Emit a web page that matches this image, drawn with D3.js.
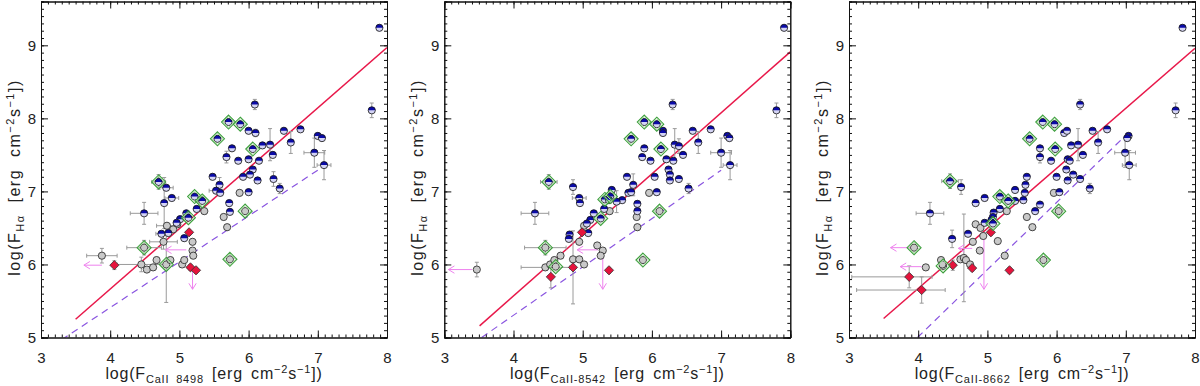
<!DOCTYPE html>
<html>
<head>
<meta charset="utf-8">
<script src="https://cdn.jsdelivr.net/npm/d3@7"></script>
<style>
body { margin: 0; background: #fff; }
svg { display: block; }
text { font-family: "Liberation Sans", Arial, sans-serif; fill: #222; }
</style>
</head>
<body>
<script>
// axis ranges and tick labels
var xDomain = [3, 8];
var yDomain = [5, 9.6];
var xTicks = [3, 4, 5, 6, 7, 8];
var yTicks = [5, 6, 7, 8, 9];
var lineNames = ['CaII 8498', 'CaII-8542', 'CaII-8662'];

// points: [x, y, xerr, yerr, xerrHigh]
var blue8498 = [[7.89,9.24,0,0.04],[7.78,8.11,0,0.1],[6.09,8.19,0,0.07],[5.71,7.95],[5.88,7.92],[6.00,7.83],[6.10,7.80,0,0.05],[6.51,7.83],[6.75,7.85],[5.55,7.72],[5.76,7.59],[6.06,7.58],[6.20,7.63],[6.31,7.64,0,0.22],[6.61,7.67,0,0.15],[7.00,7.76],[7.06,7.73],[5.68,7.47,0,0.08],[5.85,7.42],[6.00,7.44],[6.15,7.42],[6.35,7.50],[6.95,7.53,0.15,0.2],[7.09,7.36,0.1,0.2],[6.06,7.30],[6.02,7.23],[5.92,7.20],[5.48,7.20],[6.13,7.15],[6.36,7.17,0,0.1],[5.58,7.09,0,0.1],[6.45,7.04,0,0.07],[6.00,6.99],[5.53,7.01,0.1,0],[5.59,6.98],[5.72,6.84],[5.73,6.72],[4.70,7.13,0.1,0.1],[4.81,7.05,0.1,0],[4.89,6.91,0.1,0],[4.78,6.84,0,0.35],[4.49,6.70,0.2,0.15],[5.22,6.93],[5.31,6.88],[5.33,6.87],[5.25,6.76],[5.10,6.70],[5.13,6.64],[5.01,6.62],[4.96,6.57],[4.84,6.43],[4.74,6.42,0.08,0],[5.07,6.36]];
var grey8498 = [[5.87,6.98],[5.36,6.73],[5.95,6.73],[5.64,6.65],[5.69,6.51],[5.73,6.07],[4.97,6.55],[4.82,6.53,0.15,0],[4.91,6.48],[4.77,6.31,0.2,0.1],[5.19,6.31],[5.19,6.19],[5.20,6.12],[4.49,6.23,0.25,0.1],[3.88,6.12,0.22,0.1],[4.45,6.00,0.35,0.1],[4.53,5.93],[4.62,5.96],[4.67,6.06],[4.81,6.00,0,0.52],[4.87,6.06],[5.04,6.00],[5.07,6.06]];
var red8498 = [[4.06,5.99,0,0.06],[5.14,6.44],[5.16,5.96],[5.24,5.92]];
var green8498 = [[5.71,7.95],[5.88,7.92],[5.55,7.72],[6.06,7.58],[4.70,7.13],[5.22,6.93],[5.33,6.87],[5.13,6.64],[5.95,6.73],[5.73,6.07],[4.49,6.23],[4.81,6.00]];
var arrows8498 = [[3.88,5.99,3.62,5.99],[5.10,6.20,4.80,6.20],[5.19,5.98,5.19,5.66]];
var fit8498 = [[3.5,5.25],[8,8.97]];
var dash8498 = [[3.3,4.97],[7.03,7.31]];

var blue8542 = [[7.91,9.24],[7.80,8.11,0,0.1],[6.30,8.19,0,0.07],[5.89,7.95],[6.07,7.92],[6.16,7.83],[6.16,7.80],[6.59,7.83],[6.85,7.85],[5.70,7.72],[5.89,7.59],[6.13,7.58],[6.33,7.64,0,0.22],[6.39,7.62,0,0.1],[6.67,7.67,0,0.15],[7.09,7.76],[7.12,7.73],[5.86,7.47],[5.98,7.42],[6.21,7.44],[6.31,7.42],[6.45,7.50],[7.00,7.53,0.15,0.2],[7.13,7.36,0.1,0.2],[6.24,7.30],[6.26,7.23],[6.26,7.15],[6.04,7.20],[5.64,7.20],[6.39,7.17],[5.73,7.09,0,0.15],[5.42,7.02],[6.53,7.04,0,0.07],[6.07,6.99],[5.66,6.98],[5.70,6.99],[5.57,6.88],[5.49,6.86,0,0.15],[5.79,6.83],[5.79,6.73],[4.51,7.13,0.12,0.1],[4.86,7.06,0,0.1],[4.95,6.91,0.1,0],[4.96,6.84],[4.31,6.70,0.2,0.15],[5.32,6.89],[5.40,6.93],[5.38,6.88],[5.31,6.76],[5.26,6.63],[5.16,6.70],[5.11,6.61],[5.06,6.56],[5.08,6.43],[4.81,6.41],[4.80,6.35]];
var grey8542 = [[5.96,6.98],[5.39,6.73],[6.11,6.73],[5.78,6.65],[5.79,6.51],[5.87,6.06],[5.02,6.53],[4.95,6.31],[5.21,6.26],[4.46,6.23,0.3,0.1],[5.29,6.19],[5.26,6.12],[3.47,5.93,0,0.1],[4.46,5.96,0.35,0],[4.53,6.00],[4.59,6.06],[4.68,6.12],[4.61,5.97],[4.86,6.07],[4.95,6.07],[5.02,6.00]];
var red8542 = [[4.54,5.83,0,0.15],[4.86,5.96,0,0.5],[4.99,6.44],[5.38,5.92]];
var green8542 = [[5.89,7.95],[6.07,7.92],[5.70,7.72],[6.13,7.58],[4.51,7.13],[5.32,6.89],[5.40,6.93],[5.26,6.63],[6.11,6.73],[5.87,6.06],[4.46,6.23],[4.61,5.97]];
var arrows8542 = [[3.40,5.93,3.06,5.93],[5.22,6.20,4.92,6.20],[5.29,6.12,5.29,5.66]];
var fit8542 = [[3.51,5.16],[8,8.91]];
var dash8542 = [[3.54,5.0],[7.0,7.29]];

var blue8662 = [[7.82,9.24],[7.72,8.11,0,0.1],[6.34,8.19,0,0.07],[5.80,7.95],[5.97,7.92],[6.11,7.80],[6.15,7.83],[6.52,7.83],[6.73,7.85],[5.61,7.72],[5.76,7.59],[5.98,7.58],[6.21,7.63],[6.31,7.64,0,0.22],[6.60,7.67,0,0.15],[7.04,7.76],[7.02,7.73],[5.76,7.47,0,0.08],[5.92,7.42],[6.16,7.44],[6.19,7.42],[6.38,7.50],[6.99,7.53,0.15,0.2],[7.05,7.36,0.1,0.2],[6.14,7.30],[6.24,7.23],[6.00,7.20],[5.57,7.20],[6.16,7.15],[6.34,7.17],[5.55,7.09],[5.40,7.02],[6.48,7.04,0,0.07],[6.04,6.99],[5.54,6.98],[5.52,6.88],[5.40,6.87],[5.69,6.73],[5.76,6.82],[4.46,7.14,0.12,0.1],[4.62,7.06,0,0.1],[4.17,6.70,0.2,0.15],[4.83,6.84],[4.96,6.91],[5.18,6.93],[5.30,6.87],[5.18,6.76],[5.09,6.71],[5.08,6.65],[5.06,6.61],[4.96,6.57],[5.08,6.56],[4.72,6.42],[4.49,6.35,0,0.12]];
var grey8662 = [[5.96,6.98],[5.28,6.73],[6.03,6.73],[5.57,6.65],[5.65,6.51],[5.81,6.06],[4.83,6.55],[4.90,6.50],[4.94,6.39],[4.79,6.31],[5.15,6.32],[4.89,6.19],[5.25,6.12],[3.94,6.23],[4.11,5.96],[4.33,6.06],[4.36,5.98],[4.35,6.00],[4.61,6.07],[4.66,6.09,0,0.6],[4.69,6.06],[4.75,6.00]];
var red8662 = [[3.87,5.83,0.83,0.15,0.33],[4.05,5.65,0.94,0.18,0.34],[4.50,5.99,0,0.07],[4.78,5.95],[5.05,6.44],[5.32,5.92]];
var green8662 = [[5.80,7.95],[5.97,7.92],[5.61,7.72],[5.98,7.58],[4.46,7.14],[5.18,6.93],[5.30,6.87],[5.08,6.56],[6.03,6.73],[5.81,6.06],[3.94,6.23],[4.36,5.98]];
var arrows8662 = [[3.92,6.23,3.60,6.23],[4.05,5.97,3.74,5.97],[4.95,6.40,4.95,5.66],[4.78,6.22,4.58,6.22]];
var fit8662 = [[3.5,5.26],[8,8.96]];
var dash8662 = [[3.99,5.0],[6.98,7.75]];

var width = 1200, height = 386;
var plotW = 346, plotTop = 1.5, plotBottom = 337.5;

var svg = d3.select('body').append('svg')
  .attr('width', width)
  .attr('height', height);

var panels = [
  {left: 41, name: lineNames[0], blue: blue8498, grey: grey8498, red: red8498, green: green8498, arrows: arrows8498, fit: fit8498, dash: dash8498},
  {left: 444.3, name: lineNames[1], blue: blue8542, grey: grey8542, red: red8542, green: green8542, arrows: arrows8542, fit: fit8542, dash: dash8542},
  {left: 849, name: lineNames[2], blue: blue8662, grey: grey8662, red: red8662, green: green8662, arrows: arrows8662, fit: fit8662, dash: dash8662}
];

// minor ticks every 0.1
var xMinor = d3.range(30, 81).map(function(d) { return d / 10; });
var yMinor = d3.range(50, 97).map(function(d) { return d / 10; });

panels.forEach(function(p, i) {
  var x = d3.scaleLinear().domain(xDomain).range([p.left, p.left + plotW]);
  var y = d3.scaleLinear().domain(yDomain).range([plotBottom, plotTop]);
  var g = svg.append('g');

  g.append('clipPath').attr('id', 'clip' + i)
    .append('rect')
    .attr('x', p.left).attr('y', plotTop)
    .attr('width', plotW).attr('height', plotBottom - plotTop);
  var plot = g.append('g').attr('clip-path', 'url(#clip' + i + ')');

  // fit lines
  var line = d3.line().x(function(d) { return x(d[0]); }).y(function(d) { return y(d[1]); });
  plot.append('path').datum(p.dash).attr('d', line)
    .attr('stroke', '#8a55e0').attr('stroke-width', 1.2)
    .attr('stroke-dasharray', '7,5').attr('fill', 'none');
  plot.append('path').datum(p.fit).attr('d', line)
    .attr('stroke', '#e8184a').attr('stroke-width', 1.5).attr('fill', 'none');

  // error bars
  var all = p.blue.concat(p.grey, p.red);
  var eb = plot.append('g').attr('stroke', '#9a9a9a').attr('stroke-width', 1).attr('fill', 'none');
  all.forEach(function(d) {
    var xe = d[2] || 0, ye = d[3] || 0.04, xeh = d[4] != null ? d[4] : xe;
    var cx = x(d[0]), cy = y(d[1]);
    eb.append('line').attr('x1', cx).attr('x2', cx).attr('y1', y(d[1] - ye)).attr('y2', y(d[1] + ye));
    eb.append('line').attr('x1', cx - 2).attr('x2', cx + 2).attr('y1', y(d[1] - ye)).attr('y2', y(d[1] - ye));
    eb.append('line').attr('x1', cx - 2).attr('x2', cx + 2).attr('y1', y(d[1] + ye)).attr('y2', y(d[1] + ye));
    if (xe > 0) {
      eb.append('line').attr('x1', x(d[0] - xe)).attr('x2', x(d[0] + xeh)).attr('y1', cy).attr('y2', cy);
      eb.append('line').attr('x1', x(d[0] - xe)).attr('x2', x(d[0] - xe)).attr('y1', cy - 2).attr('y2', cy + 2);
      eb.append('line').attr('x1', x(d[0] + xeh)).attr('x2', x(d[0] + xeh)).attr('y1', cy - 2).attr('y2', cy + 2);
    }
  });

  // upper limit arrows
  var ar = plot.append('g').attr('stroke', '#ee82ee').attr('stroke-width', 1).attr('fill', 'none');
  p.arrows.forEach(function(a) {
    var x1 = x(a[0]), y1 = y(a[1]), x2 = x(a[2]), y2 = y(a[3]);
    ar.append('line').attr('x1', x1).attr('y1', y1).attr('x2', x2).attr('y2', y2);
    var ang = Math.atan2(y2 - y1, x2 - x1), L = 7, w = 0.55;
    ar.append('path').attr('d', 'M' + (x2 - L * Math.cos(ang - w)) + ',' + (y2 - L * Math.sin(ang - w)) +
      'L' + x2 + ',' + y2 + 'L' + (x2 - L * Math.cos(ang + w)) + ',' + (y2 - L * Math.sin(ang + w)));
  });

  // grey circles
  plot.append('g').selectAll('circle').data(p.grey).enter().append('circle')
    .attr('cx', function(d) { return x(d[0]); })
    .attr('cy', function(d) { return y(d[1]); })
    .attr('r', 3.6).attr('fill', '#c9c9c9').attr('stroke', '#222').attr('stroke-width', 0.8);

  // blue half-filled circles
  var r = 3.6;
  var bg = plot.append('g').selectAll('g').data(p.blue).enter().append('g')
    .attr('transform', function(d) { return 'translate(' + x(d[0]) + ',' + y(d[1]) + ')'; });
  bg.append('circle').attr('r', r).attr('fill', '#d4d4f4');
  bg.append('path').attr('d', 'M' + (-r) + ',0A' + r + ',' + r + ' 0 0 1 ' + r + ',0Z').attr('fill', '#0a0aa8');
  bg.append('circle').attr('r', r).attr('fill', 'none').attr('stroke', '#111').attr('stroke-width', 0.8);

  // red diamonds
  var s = 4.6;
  plot.append('g').selectAll('path').data(p.red).enter().append('path')
    .attr('d', 'M0,' + (-s) + 'L' + s + ',0L0,' + s + 'L' + (-s) + ',0Z')
    .attr('transform', function(d) { return 'translate(' + x(d[0]) + ',' + y(d[1]) + ')'; })
    .attr('fill', '#e5133c').attr('stroke', '#333').attr('stroke-width', 0.8);

  // green open diamonds
  var gd = plot.append('g').selectAll('g').data(p.green).enter().append('g')
    .attr('transform', function(d) { return 'translate(' + x(d[0]) + ',' + y(d[1]) + ')'; })
    .attr('fill', 'none');
  gd.append('path').attr('d', 'M0,-7L7,0L0,7L-7,0Z').attr('stroke', '#3c9e3c').attr('stroke-width', 1.1);
  gd.append('path').attr('d', 'M0,-5.6L5.6,0L0,5.6L-5.6,0Z').attr('stroke', '#a6dca0').attr('stroke-width', 1);

  // axes on four sides, ticks inward
  g.append('g').attr('transform', 'translate(0,' + plotBottom + ')')
    .call(d3.axisBottom(x).tickValues(xMinor).tickSize(-3).tickFormat(''));
  g.append('g').attr('transform', 'translate(0,' + plotBottom + ')')
    .call(d3.axisBottom(x).tickValues(xTicks).tickSize(-7).tickPadding(15).tickFormat(d3.format('d')));
  g.append('g').attr('transform', 'translate(0,' + plotTop + ')')
    .call(d3.axisTop(x).tickValues(xMinor).tickSize(-3).tickFormat(''));
  g.append('g').attr('transform', 'translate(0,' + plotTop + ')')
    .call(d3.axisTop(x).tickValues(xTicks).tickSize(-7).tickFormat(''));
  g.append('g').attr('transform', 'translate(' + p.left + ',0)')
    .call(d3.axisLeft(y).tickValues(yMinor).tickSize(-3).tickFormat(''));
  g.append('g').attr('transform', 'translate(' + p.left + ',0)')
    .call(d3.axisLeft(y).tickValues(yTicks).tickSize(-7).tickPadding(5).tickFormat(d3.format('d')));
  g.append('g').attr('transform', 'translate(' + (p.left + plotW) + ',0)')
    .call(d3.axisRight(y).tickValues(yMinor).tickSize(-3).tickFormat(''));
  g.append('g').attr('transform', 'translate(' + (p.left + plotW) + ',0)')
    .call(d3.axisRight(y).tickValues(yTicks).tickSize(-7).tickFormat(''));
  g.selectAll('.domain').attr('stroke', '#111');
  g.selectAll('.tick line').attr('stroke', '#111');
  g.selectAll('.tick text').attr('font-size', 15).attr('fill', '#222')
    .attr('font-family', '"Liberation Sans", Arial, sans-serif');

  // axis titles
  function title(t, sub) {
    t.append('tspan').text('log(F');
    t.append('tspan').attr('font-size', 11).attr('dy', 4).text(sub);
    t.append('tspan').attr('dy', -4).text(' [erg cm');
    t.append('tspan').attr('font-size', 11).attr('dy', -6).text('−2');
    t.append('tspan').attr('dy', 6).text('s');
    t.append('tspan').attr('font-size', 11).attr('dy', -6).text('−1');
    t.append('tspan').attr('dy', 6).text('])');
  }
  var xt = g.append('text')
    .attr('x', p.left + plotW / 2).attr('y', 379)
    .attr('text-anchor', 'middle').attr('font-size', 16)
    .attr('letter-spacing', 0.8).attr('word-spacing', 3);
  title(xt, p.name);
  var yt = g.append('text')
    .attr('transform', 'translate(' + (p.left - 21) + ',' + ((plotTop + plotBottom) / 2 + 8) + ') rotate(-90)')
    .attr('text-anchor', 'middle').attr('font-size', 16)
    .attr('letter-spacing', 1.5).attr('word-spacing', 6);
  title(yt, 'Hα');
});
</script>
</body>
</html>
